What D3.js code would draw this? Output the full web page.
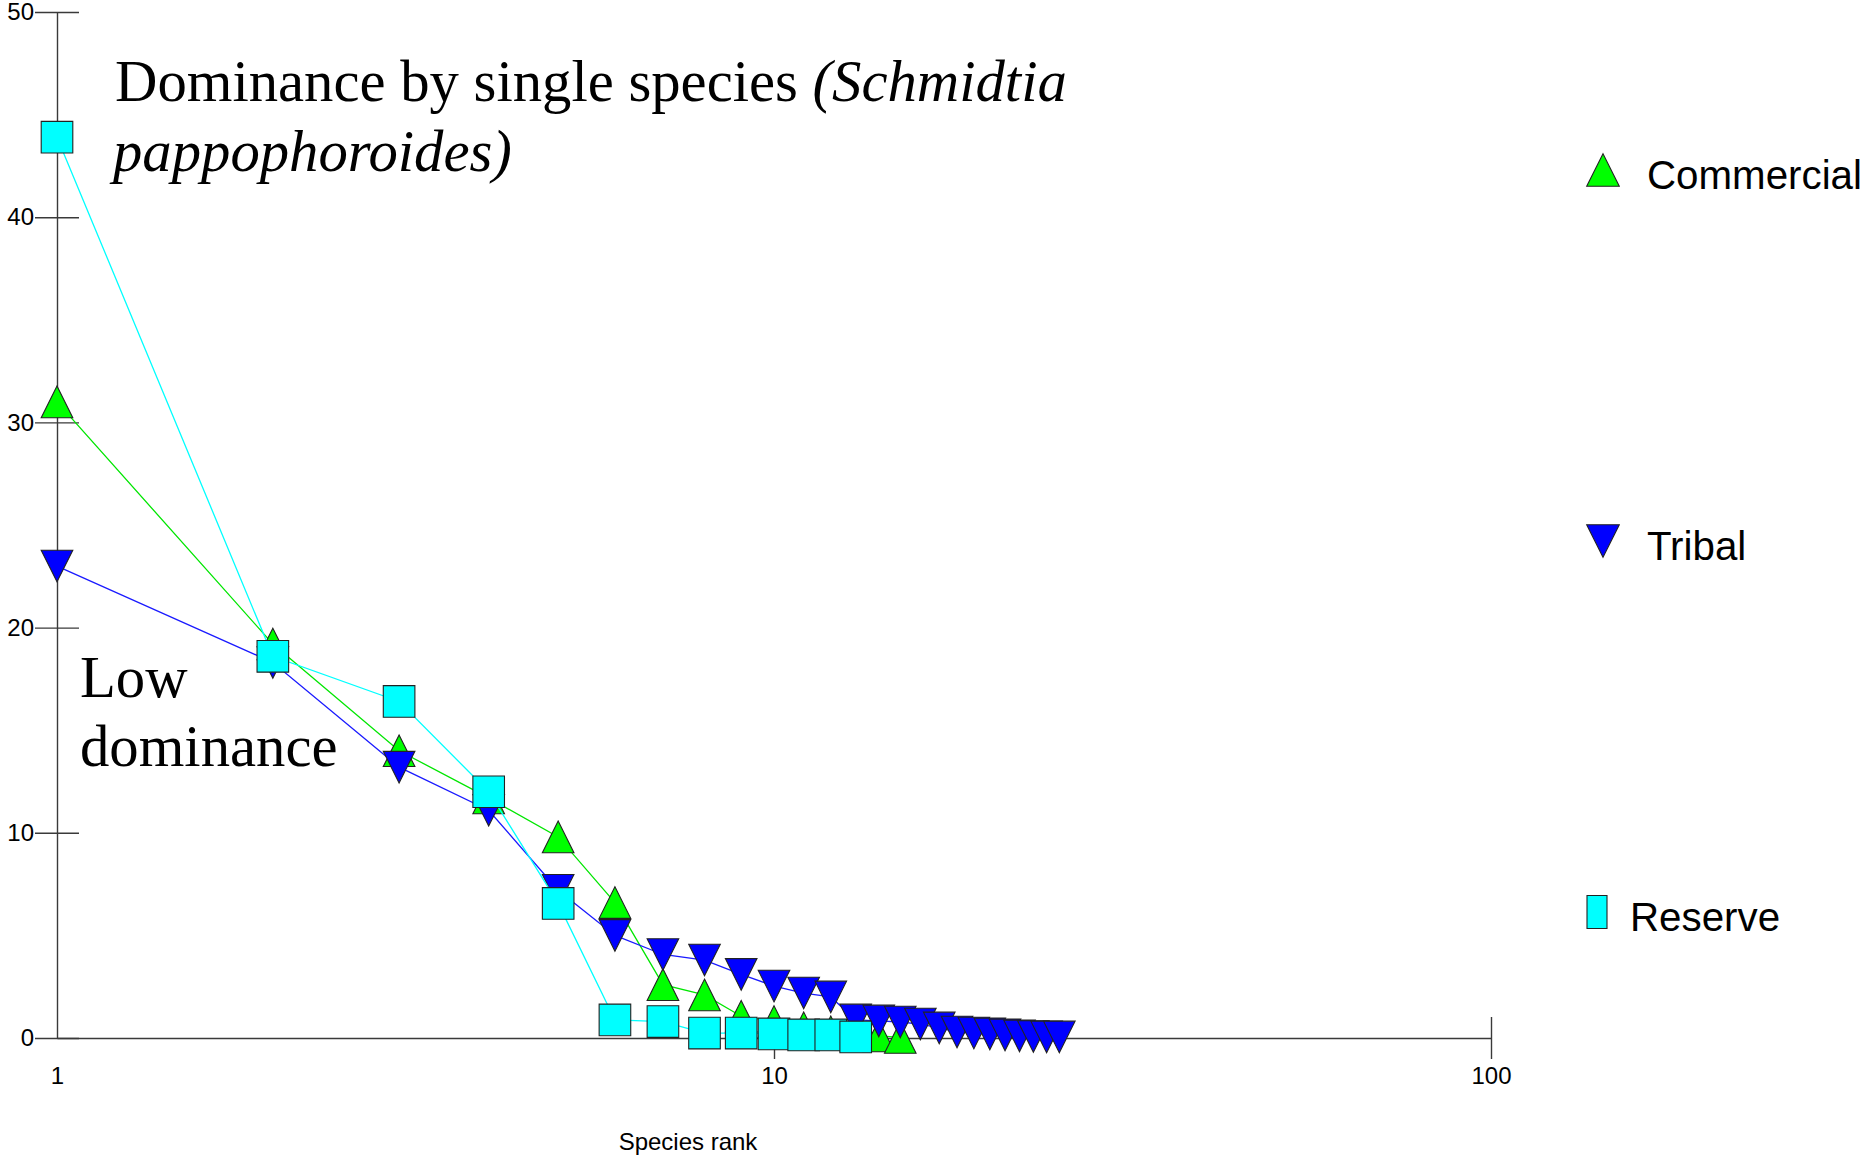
<!DOCTYPE html>
<html>
<head>
<meta charset="utf-8">
<script src="https://cdn.jsdelivr.net/npm/d3@7"></script>
<style>
  body { margin: 0; background: #fff; }
  .axis path, .axis line { stroke: #3a3a3a; stroke-width: 1.4; }
  .axis text { font-family: "Liberation Sans", Arial, sans-serif; font-size: 24px; fill: #000; }
  .note { font-family: "Liberation Serif", "Times New Roman", serif; font-size: 58.7px; fill: #000; }
  .legend text { font-family: "Liberation Sans", Arial, sans-serif; font-size: 40.3px; fill: #000; }
</style>
</head>
<body>
<div id="chart"></div>
<script>
// species rank (log axis)
var ranks = [1,2,3,4,5,6,7,8,9,10,11,12,13,14,15,16,17,18,19,20,21,22,23,24,25];

// % cover per rank
var commercial = [31.0,19.2,14.0,11.7,9.8,6.6,2.6,2.1,1.06,0.8,0.5,0.3,0.15,0.1,0.03];
var tribal = [23.0,18.3,13.2,11.1,7.2,5.0,4.07,3.8,3.1,2.53,2.19,2.0,0.88,0.83,0.78,0.68,0.49,0.29,0.24,0.2,0.15,0.1,0.07,0.05,0.05];
var reserve = [43.9,18.6,16.4,12.0,6.56,0.88,0.8,0.24,0.24,0.2,0.15,0.15,0.05];

var xTicks = [1,10,100];
var yTicks = [0,10,20,30,40,50];
var seriesNames = ["Commercial","Tribal","Reserve"];

var width = 1865, height = 1162;

var svg = d3.select("#chart").append("svg")
    .attr("width", width)
    .attr("height", height);

var x = d3.scaleLog()
    .domain([1,100])
    .range([57,1491]);

var y = d3.scaleLinear()
    .domain([0,50])
    .range([1038,12]);

// axes, ticks cross the axis line
var yAxis = d3.axisLeft(y)
    .tickValues(yTicks)
    .tickSize(22)
    .tickSizeOuter(0)
    .tickPadding(1);

var xAxis = d3.axisBottom(x)
    .tickValues(xTicks)
    .tickFormat(d3.format("d"))
    .tickSize(21)
    .tickSizeOuter(0)
    .tickPadding(8);

var gy = svg.append("g")
    .attr("class", "axis")
    .attr("transform", "translate(" + x(1) + ",0)")
    .call(yAxis);
gy.selectAll(".tick line").attr("x1", -22).attr("x2", 22);

var gx = svg.append("g")
    .attr("class", "axis")
    .attr("transform", "translate(0," + y(0) + ")")
    .call(xAxis);
gx.selectAll(".tick line")
    .attr("y1", -21).attr("y2", 21)
    .style("display", function(d){ return d == 1 ? "none" : null });

svg.append("text")
    .attr("x", 688)
    .attr("y", 1150)
    .attr("text-anchor", "middle")
    .style("font-family", "'Liberation Sans', Arial, sans-serif")
    .style("font-size", "24px")
    .text("Species rank");

// marker shapes, s = half size
function triUp(s){ return "M0," + (-s) + "L" + s + "," + s + "L" + (-s) + "," + s + "Z"; }
function triDown(s){ return "M0," + s + "L" + s + "," + (-s) + "L" + (-s) + "," + (-s) + "Z"; }
function square(s){ return "M" + (-s) + "," + (-s) + "H" + s + "V" + s + "H" + (-s) + "Z"; }

var series = [
  {name:"Commercial", values:commercial, line:"#00e600", fill:"#00ff00", shape:triUp},
  {name:"Tribal", values:tribal, line:"#1a1aff", fill:"#0000ff", shape:triDown},
  {name:"Reserve", values:reserve, line:"#00ffff", fill:"#00ffff", shape:square}
];

var line = d3.line()
    .x(function(d,i){ return x(ranks[i]) })
    .y(function(d){ return y(d) });

series.forEach(function(s){
  var g = svg.append("g").attr("class", "series");
  g.append("path")
    .datum(s.values)
    .attr("d", line)
    .attr("fill", "none")
    .attr("stroke", s.line)
    .attr("stroke-width", 1.3);
  g.selectAll(".marker")
      .data(s.values)
    .enter().append("path")
      .attr("class", "marker")
      .attr("transform", function(d,i){ return "translate(" + x(ranks[i]) + "," + y(d) + ")" })
      .attr("d", s.shape(15.8))
      .attr("fill", s.fill)
      .attr("stroke", "#222")
      .attr("stroke-width", 1.1);
});

// annotations
var note1 = svg.append("text").attr("class", "note").attr("x", 115).attr("y", 101);
note1.append("tspan").text("Dominance by single species ");
note1.append("tspan").style("font-style", "italic").text("(Schmidtia");
svg.append("text").attr("class", "note")
    .attr("x", 113).attr("y", 171)
    .style("font-style", "italic")
    .text("pappophoroides)");

svg.append("text").attr("class", "note").attr("x", 80).attr("y", 697).text("Low");
svg.append("text").attr("class", "note").attr("x", 80).attr("y", 766).text("dominance");

// legend
var legend = svg.append("g").attr("class", "legend");
var legendY = [170, 541, 912];
var legendTextX = [1647, 1647, 1630];

legend.selectAll(".lmark")
    .data(series)
  .enter().append("path")
    .attr("class", "lmark")
    .attr("transform", function(d,i){ return "translate(1603," + legendY[i] + ")" })
    .attr("d", function(d,i){ return i == 2 ? "M-16,-16.5H4V16.5H-16Z" : d.shape(16.3) })
    .attr("fill", function(d){ return d.fill })
    .attr("stroke", "#222")
    .attr("stroke-width", 1.1);

legend.selectAll(".ltext")
    .data(seriesNames)
  .enter().append("text")
    .attr("x", function(d,i){ return legendTextX[i] })
    .attr("y", function(d,i){ return legendY[i] + 19 })
    .text(function(d){ return d });
</script>
</body>
</html>
